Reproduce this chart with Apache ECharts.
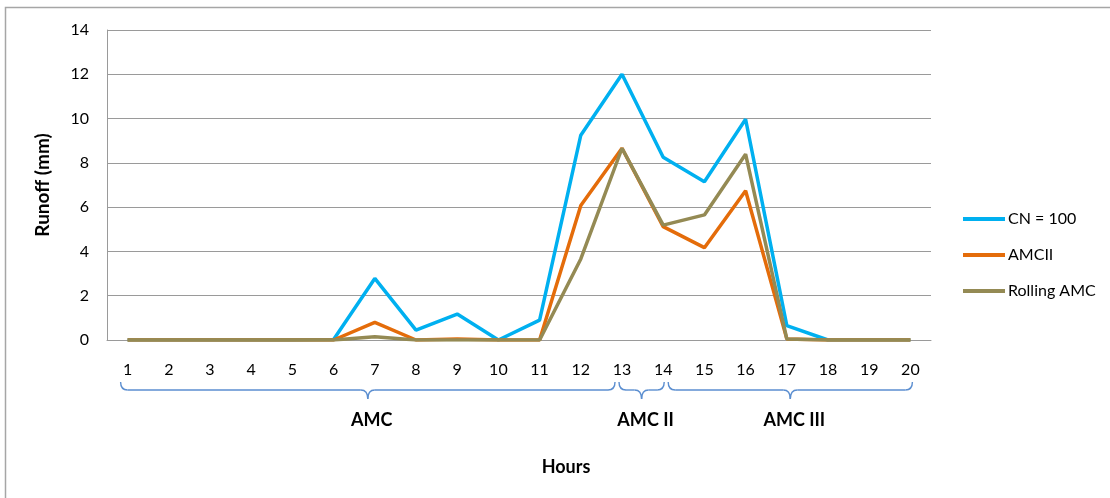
<!DOCTYPE html>
<html>
<head>
<meta charset="utf-8">
<script src="https://cdn.jsdelivr.net/npm/echarts@6/dist/echarts.min.js"></script>
<style>
  html, body { margin: 0; padding: 0; background: #fff; }
  #chart { width: 1110px; height: 498px; }
</style>
</head>
<body>
<div id="chart"></div>
<script>
// Hourly runoff under three antecedent-moisture treatments
const hours = ['1','2','3','4','5','6','7','8','9','10','11','12','13','14','15','16','17','18','19','20'];
const cn100   = [0, 0, 0, 0, 0, 0.02, 2.78, 0.45, 1.17, 0, 0.9, 9.25, 12.0, 8.25, 7.15, 9.97, 0.65, 0, 0, 0];
const amcII   = [0, 0, 0, 0, 0, 0, 0.8, 0, 0.05, 0, 0, 6.07, 8.66, 5.12, 4.17, 6.74, 0.05, 0, 0, 0];
const rolling = [0, 0, 0, 0, 0, 0, 0.15, 0, 0, 0, 0, 3.66, 8.66, 5.19, 5.65, 8.39, 0.05, 0, 0, 0];
const seriesNames = ['CN = 100', 'AMCII', 'Rolling AMC'];
const yTicks = { min: 0, max: 14, interval: 2 };

// Moisture-condition periods marked under the hour axis
const periodNames = ['AMC', 'AMC II', 'AMC III'];
const periodFrom  = ['1', '13', '14'];
const periodTo    = ['13', '14', '20'];

const FONT = 'Lato, "Open Sans", sans-serif';
const colors = ['#00b0f0', '#e46c0a', '#948a54'];

const chart = echarts.init(document.getElementById('chart'));

const option = {
  animation: false,
  backgroundColor: '#ffffff',
  color: colors,
  textStyle: { fontFamily: FONT },
  grid: { left: 107, right: 179, top: 30, bottom: 158 },
  legend: {
    orient: 'vertical',
    left: 958,
    top: 206,
    icon: 'rect',
    itemWidth: 42,
    itemHeight: 4,
    itemGap: 20,
    data: seriesNames,
    textStyle: { fontFamily: FONT, fontSize: 16, color: '#000', padding: [0, 0, 0, -2] }
  },
  xAxis: {
    type: 'category',
    data: hours,
    boundaryGap: true,
    axisLine: { show: true, lineStyle: { color: '#9a9a9a', width: 1 } },
    axisTick: { show: false },
    axisLabel: { color: '#000', fontSize: 16, fontFamily: FONT, margin: 22, interval: 0 }
  },
  yAxis: {
    type: 'value',
    min: yTicks.min,
    max: yTicks.max,
    interval: yTicks.interval,
    name: 'Runoff (mm)',
    nameLocation: 'middle',
    nameGap: 55,
    nameTextStyle: { fontFamily: FONT, fontSize: 19, fontWeight: 'bold', color: '#000' },
    axisLine: { show: true, lineStyle: { color: '#9a9a9a', width: 1 } },
    axisTick: { show: false },
    axisLabel: { color: '#000', fontSize: 16, fontFamily: FONT, margin: 18 },
    splitLine: { show: true, lineStyle: { color: '#9a9a9a', width: 1 } }
  },
  series: [
    { name: seriesNames[0], type: 'line', data: cn100, symbol: 'none', lineStyle: { width: 3.5 } },
    { name: seriesNames[1], type: 'line', data: amcII, symbol: 'none', lineStyle: { width: 3.5 } },
    { name: seriesNames[2], type: 'line', data: rolling, symbol: 'none', lineStyle: { width: 3.5 } }
  ]
};
chart.setOption(option);

// Curly braces under the axis, spanning each moisture period
function braceElements(x0, x1, yTop, yMid, yTip, stroke) {
  const xm = (x0 + x1) / 2;
  const r = Math.min(7, (x1 - x0) / 4);
  const style = { stroke: stroke, lineWidth: 1.4, fill: null };
  const els = [
    { type: 'bezierCurve', shape: { x1: x0, y1: yTop, cpx1: x0, cpy1: yMid, x2: x0 + r, y2: yMid }, style },
    { type: 'line', shape: { x1: x0 + r, y1: yMid, x2: xm - r, y2: yMid }, style },
    { type: 'bezierCurve', shape: { x1: xm - r, y1: yMid, cpx1: xm, cpy1: yMid, x2: xm, y2: yTip }, style },
    { type: 'bezierCurve', shape: { x1: xm, y1: yTip, cpx1: xm, cpy1: yMid, x2: xm + r, y2: yMid }, style },
    { type: 'line', shape: { x1: xm + r, y1: yMid, x2: x1 - r, y2: yMid }, style },
    { type: 'bezierCurve', shape: { x1: x1 - r, y1: yMid, cpx1: x1, cpy1: yMid, x2: x1, y2: yTop }, style }
  ];
  return { els, xm };
}

function drawAnnotations() {
  const graphics = [];
  // outer frame
  graphics.push({
    type: 'rect', silent: true,
    shape: { x: 5.5, y: 7.5, width: 1200, height: 600 },
    style: { stroke: '#a6a6a6', lineWidth: 1.5, fill: null }
  });
  const insetStart = [-7, -3, 5];
  const insetEnd = [-7, 1, 2];
  for (let i = 0; i < periodNames.length; i++) {
    const xa = chart.convertToPixel({ xAxisIndex: 0 }, periodFrom[i]) + insetStart[i];
    const xb = chart.convertToPixel({ xAxisIndex: 0 }, periodTo[i]) + insetEnd[i];
    const b = braceElements(xa, xb, 382, 390, 399, '#5b8ed0');
    b.els.forEach(e => { e.silent = true; graphics.push(e); });
    graphics.push({
      type: 'text', silent: true,
      x: b.xm + 4, y: 420,
      style: {
        text: periodNames[i], fontFamily: FONT, fontSize: 18, fontWeight: 'bold',
        fill: '#000', align: 'center', verticalAlign: 'middle'
      }
    });
  }
  graphics.push({
    type: 'text', silent: true,
    x: 566, y: 467,
    style: {
      text: 'Hours', fontFamily: FONT, fontSize: 18, fontWeight: 'bold',
      fill: '#000', align: 'center', verticalAlign: 'middle'
    }
  });
  chart.setOption({ graphic: graphics });
}
drawAnnotations();
</script>
</body>
</html>
